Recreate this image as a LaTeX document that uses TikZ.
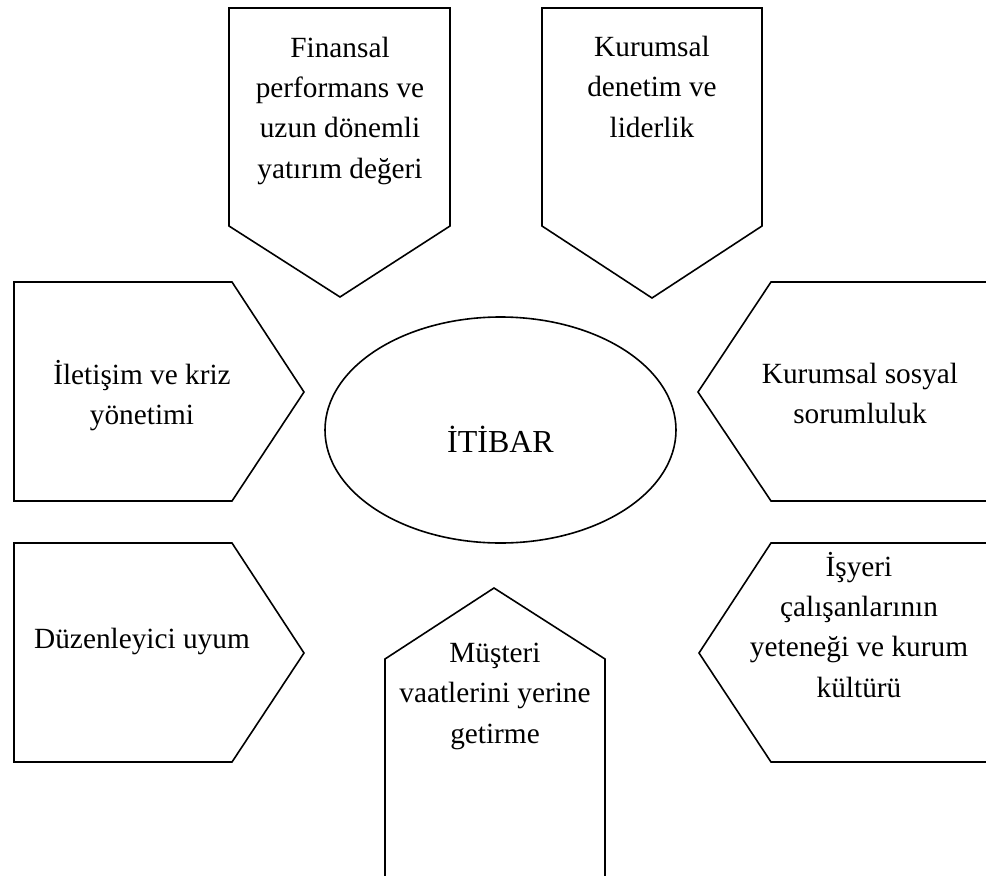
\documentclass[tikz,border=0pt]{standalone}
\usepackage{fontspec}
\setmainfont{Liberation Serif}
\begin{document}
\begin{tikzpicture}[x=1pt,y=-1pt,
  shapeline/.style={draw=black,line width=1.6pt,line join=miter},
  label/.style={align=center,inner sep=0pt,anchor=base,
    font=\fontsize{29.3}{40.3}\selectfont},
  core/.style={inner sep=0pt,anchor=base,font=\fontsize{32}{38}\selectfont}]
\useasboundingbox (0,0) rectangle (986,876);
\clip (0,0) rectangle (986,876);

% pentagon arrows around the centre
\draw[shapeline] (229,8) -- (450,8) -- (450,226) -- (340,297) -- (229,226) -- cycle;
\draw[shapeline] (542,8) -- (762,8) -- (762,226) -- (652,298) -- (542,226) -- cycle;
\draw[shapeline] (14,282) -- (232,282) -- (304,392) -- (232,501) -- (14,501) -- cycle;
\draw[shapeline] (771,282) -- (994,282) -- (994,501) -- (771,501) -- (698,392) -- cycle;
\draw[shapeline] (14,543) -- (232,543) -- (304,653) -- (232,762) -- (14,762) -- cycle;
\draw[shapeline] (771,543) -- (994,543) -- (994,762) -- (771,762) -- (699,653) -- cycle;
\draw[shapeline] (385,659) -- (494,588) -- (605,659) -- (605,884) -- (385,884) -- cycle;

% central ellipse
\draw[shapeline] (500.5,430) ellipse [x radius=175.5, y radius=113];
\node[core] (itibar) at (500.5,452) {İTİBAR};

% labels, anchored at the baseline of their last line
\node[label] (finans) at (340,178) {Finansal\\performans ve\\uzun dönemli\\yatırım değeri};
\node[label] (denetim) at (652,137) {Kurumsal\\denetim ve\\liderlik};
\node[label] (iletisim) at (142,424.5) {İletişim ve kriz\\yönetimi};
\node[label] (sosyal) at (860,423.5) {Kurumsal sosyal\\sorumluluk};
\node[label] (uyum) at (142,648) {Düzenleyici uyum};
\node[label] (isyeri) at (859,697) {İşyeri\\çalışanlarının\\yeteneği ve kurum\\kültürü};
\node[label] (musteri) at (495,743) {Müşteri\\vaatlerini yerine\\getirme};
\end{tikzpicture}
\end{document}
